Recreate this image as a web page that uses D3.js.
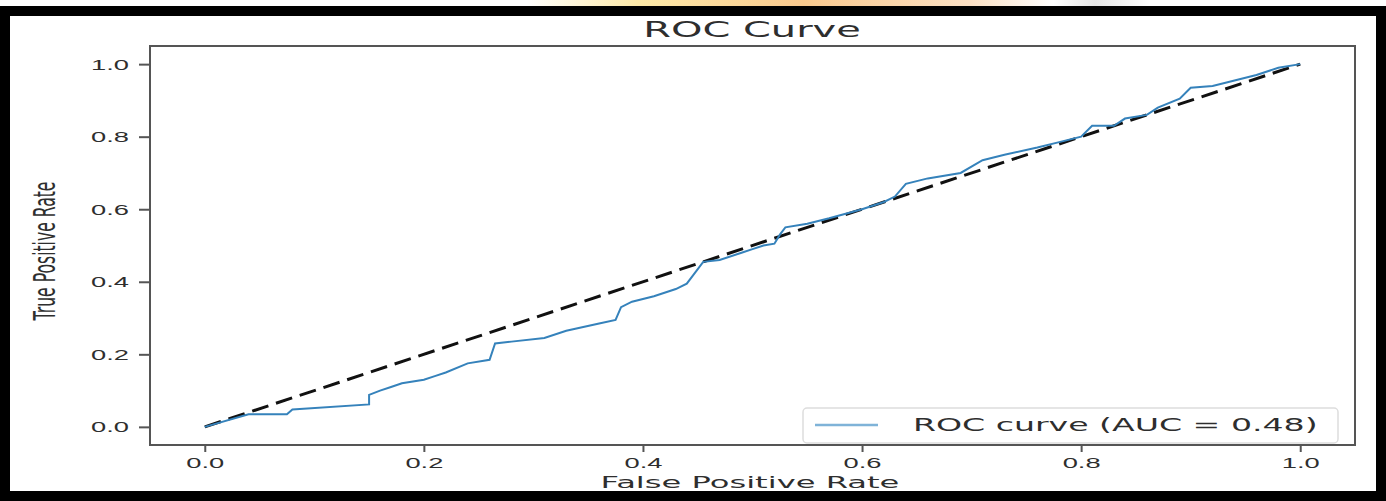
<!DOCTYPE html>
<html>
<head>
<meta charset="utf-8">
<script src="https://cdn.jsdelivr.net/npm/d3@7"></script>
<style>
  body { margin: 0; background: #fff; }
  svg { display: block; font-family: "DejaVu Sans", sans-serif; }
</style>
</head>
<body>
<svg id="chart" width="1386" height="501"></svg>
<script>
// roc points (false positive rate / true positive rate)
const fpr = [0, 0.04, 0.075, 0.08, 0.15, 0.15, 0.16, 0.17, 0.18, 0.2, 0.21, 0.22, 0.24, 0.26, 0.265, 0.28, 0.31, 0.33,
  0.36, 0.375, 0.38, 0.39, 0.41, 0.43, 0.44, 0.455, 0.47, 0.49, 0.5, 0.51, 0.52, 0.525, 0.53, 0.55,
  0.57, 0.6, 0.62, 0.63, 0.64, 0.66, 0.69, 0.71, 0.73, 0.76, 0.78, 0.8, 0.81, 0.83, 0.84, 0.86,
  0.87, 0.89, 0.9, 0.92, 0.94, 0.96, 0.98, 1.0]
const tpr = [0, 0.035, 0.035, 0.048, 0.062, 0.088, 0.10, 0.11, 0.12, 0.13, 0.14, 0.15, 0.175, 0.185, 0.23, 0.235, 0.245, 0.265,
  0.285, 0.295, 0.33, 0.345, 0.36, 0.38, 0.395, 0.455, 0.46, 0.48, 0.49, 0.5, 0.505, 0.53, 0.55, 0.56,
  0.575, 0.60, 0.62, 0.635, 0.67, 0.685, 0.70, 0.735, 0.75, 0.77, 0.785, 0.80, 0.83, 0.83, 0.85, 0.86,
  0.88, 0.905, 0.935, 0.94, 0.955, 0.97, 0.99, 1.0]
const chance = [0, 1]
const xTicks = [0, 0.2, 0.4, 0.6, 0.8, 1.0]
const yTicks = [0, 0.2, 0.4, 0.6, 0.8, 1.0]
const aucLabel = "ROC curve (AUC = 0.48)"

const stretch = 1.95   // the picture is squeezed wide, so text is too

const svg = d3.select("#chart")

// faint orange smear above the frame
const grad = svg.append("defs").append("linearGradient").attr("id", "topglow")
grad.selectAll("stop")
  .data([[0, "#fff"], [0.38, "#fff"], [0.46, "#fde9a8"], [0.58, "#f9c98e"], [0.7, "#fbe0c4"], [0.76, "#fff"],
         [0.79, "#e4e4e4"], [0.83, "#fff"], [1, "#fff"]])
  .enter().append("stop")
  .attr("offset", d => d[0]).attr("stop-color", d => d[1])
svg.append("rect").attr("x", 0).attr("y", 0).attr("width", 1386).attr("height", 8)
  .attr("fill", "url(#topglow)")

const x = d3.scaleLinear().domain([-0.05, 1.05]).range([150, 1355])
const y = d3.scaleLinear().domain([-0.05, 1.05]).range([445, 46])

// axes
const xAxis = svg.append("g")
  .attr("transform", `translate(0,${y(-0.05)})`)
  .call(d3.axisBottom(x).tickValues(xTicks).tickFormat(d3.format(".1f")).tickSize(7).tickPadding(0))
xAxis.select(".domain").remove()
xAxis.selectAll("line").attr("stroke", "#555").attr("stroke-width", 2)
xAxis.selectAll("text")
  .attr("y", 23).attr("dy", null)
  .attr("transform", `scale(${stretch},1)`)
  .attr("fill", "#2e2e2e").style("font-size", "14px")

const yAxis = svg.append("g")
  .attr("transform", `translate(${x(-0.05)},0)`)
  .call(d3.axisLeft(y).tickValues(yTicks).tickFormat(d3.format(".1f")).tickSize(11))
yAxis.select(".domain").remove()
yAxis.selectAll("line").attr("stroke", "#555").attr("stroke-width", 2)
yAxis.selectAll("text")
  .attr("x", -21 / stretch).attr("dy", "0.36em")
  .attr("transform", `scale(${stretch},1)`)
  .attr("fill", "#2e2e2e").style("font-size", "14px")

// spines
svg.append("rect")
  .attr("x", x(-0.05)).attr("y", y(1.05))
  .attr("width", x(1.05) - x(-0.05)).attr("height", y(-0.05) - y(1.05))
  .attr("fill", "none").attr("stroke", "#555").attr("stroke-width", 2)

// chance diagonal
svg.append("path")
  .datum(chance)
  .attr("d", d3.line().x(d => x(d)).y(d => y(d)))
  .attr("fill", "none").attr("stroke", "#111").attr("stroke-width", 3)
  .attr("stroke-dasharray", "17,8")

// roc curve
svg.append("path")
  .datum(d3.zip(fpr, tpr))
  .attr("d", d3.line().x(d => x(d[0])).y(d => y(d[1])))
  .attr("fill", "none").attr("stroke", "#3582bb").attr("stroke-width", 2)

// legend
const lg = svg.append("g")
lg.append("rect")
  .attr("x", 803).attr("y", 408).attr("width", 535).attr("height", 35).attr("rx", 4)
  .attr("fill", "#fff").attr("fill-opacity", 0.85).attr("stroke", "#ddd").attr("stroke-width", 1.5)
lg.append("line")
  .attr("x1", 815).attr("x2", 878).attr("y1", 425).attr("y2", 425)
  .attr("stroke", "#7fb3d8").attr("stroke-width", 2.5)
lg.append("text")
  .attr("transform", `translate(913,431) scale(${stretch},1)`)
  .attr("fill", "#2e2e2e").style("font-size", "17px")
  .text(aucLabel)

// titles
svg.append("text")
  .attr("transform", `translate(752,37) scale(${stretch},1)`)
  .attr("text-anchor", "middle").attr("fill", "#2e2e2e").style("font-size", "20.5px")
  .text("ROC Curve")
svg.append("text")
  .attr("transform", `translate(750,488) scale(${stretch},1)`)
  .attr("text-anchor", "middle").attr("fill", "#2e2e2e").style("font-size", "16.5px")
  .text("False Positive Rate")
svg.append("text")
  .attr("transform", `translate(55,251) scale(${stretch},1) rotate(-90)`)
  .attr("text-anchor", "middle").attr("fill", "#2e2e2e").style("font-size", "15.6px")
  .text("True Positive Rate")

// black frame round the whole picture
svg.append("rect")
  .attr("x", 5).attr("y", 11).attr("width", 1376).attr("height", 485)
  .attr("fill", "none").attr("stroke", "#000").attr("stroke-width", 10)
</script>
</body>
</html>
